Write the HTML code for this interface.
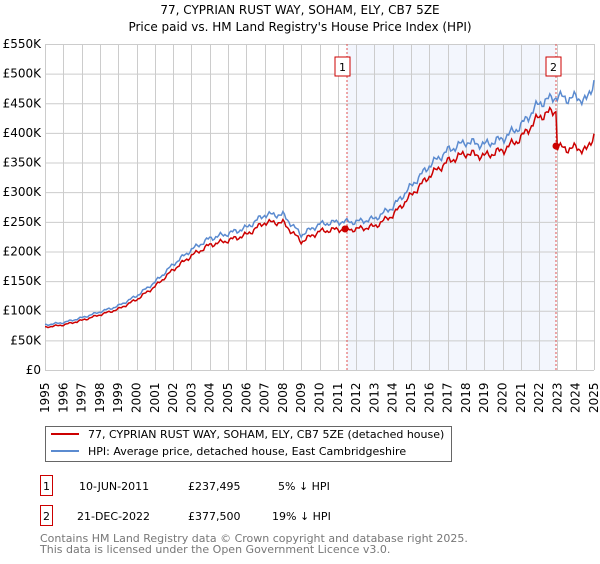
<!DOCTYPE html>
<html><head><meta charset="utf-8"><style>
body{margin:0;background:#fff;font-family:"DejaVu Sans","Liberation Sans",sans-serif;}
</style></head><body>
<svg width="600" height="560" xmlns="http://www.w3.org/2000/svg" font-family="DejaVu Sans, Liberation Sans, sans-serif">
<text x="300" y="14" text-anchor="middle" font-size="12">77, CYPRIAN RUST WAY, SOHAM, ELY, CB7 5ZE</text>
<text x="300" y="31" text-anchor="middle" font-size="12">Price paid vs. HM Land Registry's House Price Index (HPI)</text>
<rect x="347" y="44" width="209" height="326" fill="#eef2fc" opacity="0.7"/>
<g id="grid" stroke="#cccccc" stroke-width="1"></g>
<line x1="347" y1="44" x2="347" y2="370" stroke="#e05050" stroke-dasharray="2,2"/>
<line x1="556" y1="44" x2="556" y2="370" stroke="#e05050" stroke-dasharray="2,2"/>
<g id="ylab" font-size="12" text-anchor="end"></g>
<g id="xlab" font-size="12"></g>
<polyline id="hpi" fill="none" stroke="#5b8bd0" stroke-width="1.5"/>
<polyline id="red" fill="none" stroke="#cc0000" stroke-width="1.5"/>
<circle cx="345" cy="229" r="3.5" fill="#cc0000"/>
<circle cx="556" cy="146" r="3.5" fill="#cc0000"/>
<rect x="335" y="57" width="15" height="19" fill="#fff" stroke="#cc0000"/>
<text x="342.5" y="71" text-anchor="middle" font-size="11">1</text>
<rect x="546" y="57" width="15" height="19" fill="#fff" stroke="#cc0000"/>
<text x="553.5" y="71" text-anchor="middle" font-size="11">2</text>
<rect x="45.5" y="426.5" width="406" height="35" fill="#fff" stroke="#666"/>
<line x1="51" y1="434" x2="79" y2="434" stroke="#cc0000" stroke-width="2"/>
<line x1="51" y1="451" x2="79" y2="451" stroke="#5b8bd0" stroke-width="2"/>
<text x="88" y="438" font-size="11">77, CYPRIAN RUST WAY, SOHAM, ELY, CB7 5ZE (detached house)</text>
<text x="88" y="455" font-size="11">HPI: Average price, detached house, East Cambridgeshire</text>
<rect x="40.5" y="475.5" width="12" height="20" fill="#fff" stroke="#cc0000"/>
<text x="46.5" y="490" text-anchor="middle" font-size="11">1</text>
<text x="79" y="490" font-size="11">10-JUN-2011</text>
<text x="188" y="490" font-size="11">£237,495</text>
<text x="278" y="490" font-size="11">5% ↓ HPI</text>
<rect x="40.5" y="505.5" width="12" height="20" fill="#fff" stroke="#cc0000"/>
<text x="46.5" y="520" text-anchor="middle" font-size="11">2</text>
<text x="77" y="520" font-size="11">21-DEC-2022</text>
<text x="188" y="520" font-size="11">£377,500</text>
<text x="272" y="520" font-size="11">19% ↓ HPI</text>
<text x="40" y="542" font-size="11" fill="#777">Contains HM Land Registry data © Crown copyright and database right 2025.</text>
<text x="40" y="553" font-size="11" fill="#777">This data is licensed under the Open Government Licence v3.0.</text>
</svg>
<script>
const NS="http://www.w3.org/2000/svg";
const X=y=>45+(y-1995)*549/30, Y=k=>370-k*326/550;
const g=document.getElementById('grid'),yl=document.getElementById('ylab'),xl=document.getElementById('xlab');
function el(p,t,a){const e=document.createElementNS(NS,t);for(const k in a)e.setAttribute(k,a[k]);p.appendChild(e);return e;}
for(let k=0;k<=550;k+=50){el(g,'line',{x1:45,x2:594,y1:Y(k)+.5,y2:Y(k)+.5});const t=el(yl,'text',{x:41,y:Y(k)+4});t.textContent=k?'£'+k+'K':'£0';}
for(let y=1995;y<=2025;y++){el(g,'line',{x1:Math.round(X(y))+.5,x2:Math.round(X(y))+.5,y1:44,y2:370});const x=X(y)+4,t=el(xl,'text',{x:x,y:413,transform:`rotate(-90 ${x} 413)`});t.textContent=y;}
const K=[[1995,76],[1996,80],[1997,88],[1998,98],[1999,108],[2000,125],[2001,148],[2002,178],[2003,203],[2004,222],[2005,230],[2006,240],[2007,262],[2008,262],[2009,228],[2010,246],[2011,250],[2012,250],[2013,255],[2014,275],[2015,310],[2016,345],[2017,370],[2018,385],[2019,380],[2020,390],[2021,412],[2022,450],[2022.97,462],[2023.5,458],[2024,460],[2024.6,455],[2024.8,468],[2025,490]];
function hpi(t){for(let i=0;i<K.length-1;i++)if(t<=K[i+1][0]){const f=(t-K[i][0])/(K[i+1][0]-K[i][0]);return K[i][1]+f*(K[i+1][1]-K[i][1]);}return 490;}
let hp=[],rp=[];
for(let t=1995;t<=2025.001;t+=1/12){const w=Math.sin(t*9.1)*4+Math.sin(t*23.7)*3;const h=hpi(t)+w*(hpi(t)/300);hp.push(X(t).toFixed(1)+','+Y(h).toFixed(1));
let r;if(t<2022.97)r=h*0.95;else r=h*0.815;if(t>2021&&t<2022.97)r=h*0.95;rp.push(X(t).toFixed(1)+','+Y(r).toFixed(1));if(Math.abs(t-2022.96)<0.05){}}
document.getElementById('hpi').setAttribute('points',hp.join(' '));
document.getElementById('red').setAttribute('points',rp.join(' '));
</script>
</body></html>
